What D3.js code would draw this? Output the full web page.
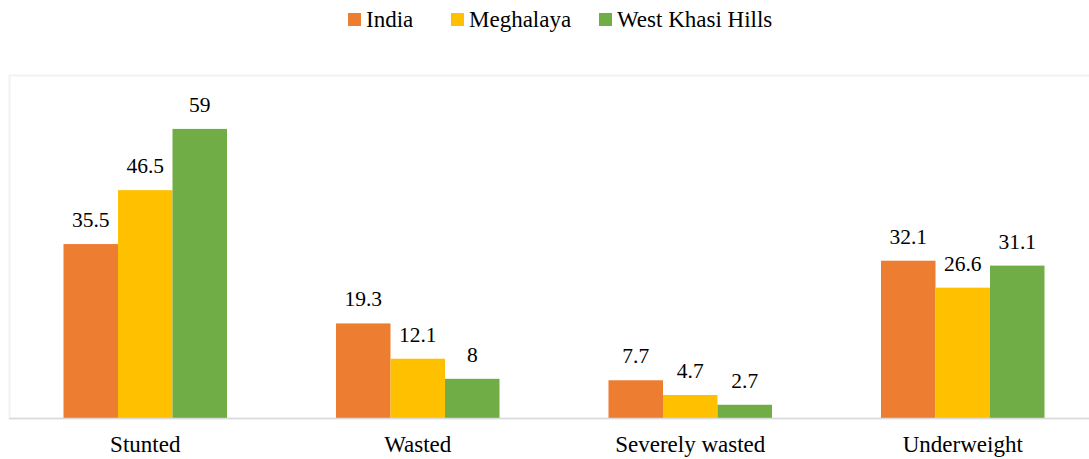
<!DOCTYPE html>
<html><head><meta charset="utf-8">
<script src="https://cdn.jsdelivr.net/npm/d3@7"></script>
<style>body{margin:0;background:#fff}svg{display:block}</style>
</head><body><svg id="c" width="1089" height="459"></svg>
<script>
const categories = ["Stunted","Wasted","Severely wasted","Underweight"];
const seriesNames = ["India","Meghalaya","West Khasi Hills"];
const india = [35.5,19.3,7.7,32.1];
const meghalaya = [46.5,12.1,4.7,26.6];
const westKhasi = [59,8,2.7,31.1];
const colors = ["#ED7D31","#FFC000","#70AD47"];
const seriesVals = [india, meghalaya, westKhasi];

const FONT = '"Liberation Serif", "DejaVu Serif", serif';
const FS = 23, FSV = 21.5;
const svg = d3.select("#c");
const pL = 9, pR = 1099, pT = 75, pB = 418;
const x0 = d3.scaleBand().domain(categories).range([pL,pR]).paddingInner(0).paddingOuter(0);
const x1 = d3.scaleBand().domain(seriesNames).range([0,x0.bandwidth()]).paddingOuter(1).paddingInner(0);
const y = d3.scaleLinear().domain([0,70]).range([pB,pT]);

svg.append("rect").attr("x",pL+0.5).attr("y",pT+0.5).attr("width",pR-pL).attr("height",pB-pT)
  .attr("fill","none").attr("stroke","#f2f2f2").attr("stroke-width",2);

const g = svg.append("g");
categories.forEach((c,i)=>{
  seriesNames.forEach((s,j)=>{
    const v = seriesVals[j][i];
    const bx = x0(c)+x1(s);
    g.append("rect").attr("x",bx).attr("y",y(v)).attr("width",x1.bandwidth()).attr("height",y(0)-y(v)).attr("fill",colors[j]);
    g.append("text").attr("x",bx+x1.bandwidth()/2).attr("y",y(v)-17).attr("text-anchor","middle")
      .style("font-family",FONT).style("font-size",FSV+"px").attr("fill","#000").text(v);
  });
});
svg.append("line").attr("x1",pL).attr("x2",pR).attr("y1",pB+0.5).attr("y2",pB+0.5).attr("stroke","#d9d9d9").attr("stroke-width",1.5);

const xAxis = d3.axisBottom(x0).tickSize(0).tickPadding(0);
const ax = svg.append("g").attr("transform",`translate(0,${pB})`).call(xAxis);
ax.select(".domain").remove();
ax.selectAll("text").attr("dy",0).attr("y",34).style("font-family",FONT).style("font-size",FS+"px").attr("fill","#000");

const legendX = [348,451,599];
const lg = svg.append("g");
seriesNames.forEach((s,j)=>{
  lg.append("rect").attr("x",legendX[j]).attr("y",13).attr("width",13).attr("height",13).attr("fill",colors[j]);
  lg.append("text").attr("x",legendX[j]+18).attr("y",27).style("font-family",FONT).style("font-size",FS+"px").attr("fill","#000").text(s);
});
</script></body></html>
